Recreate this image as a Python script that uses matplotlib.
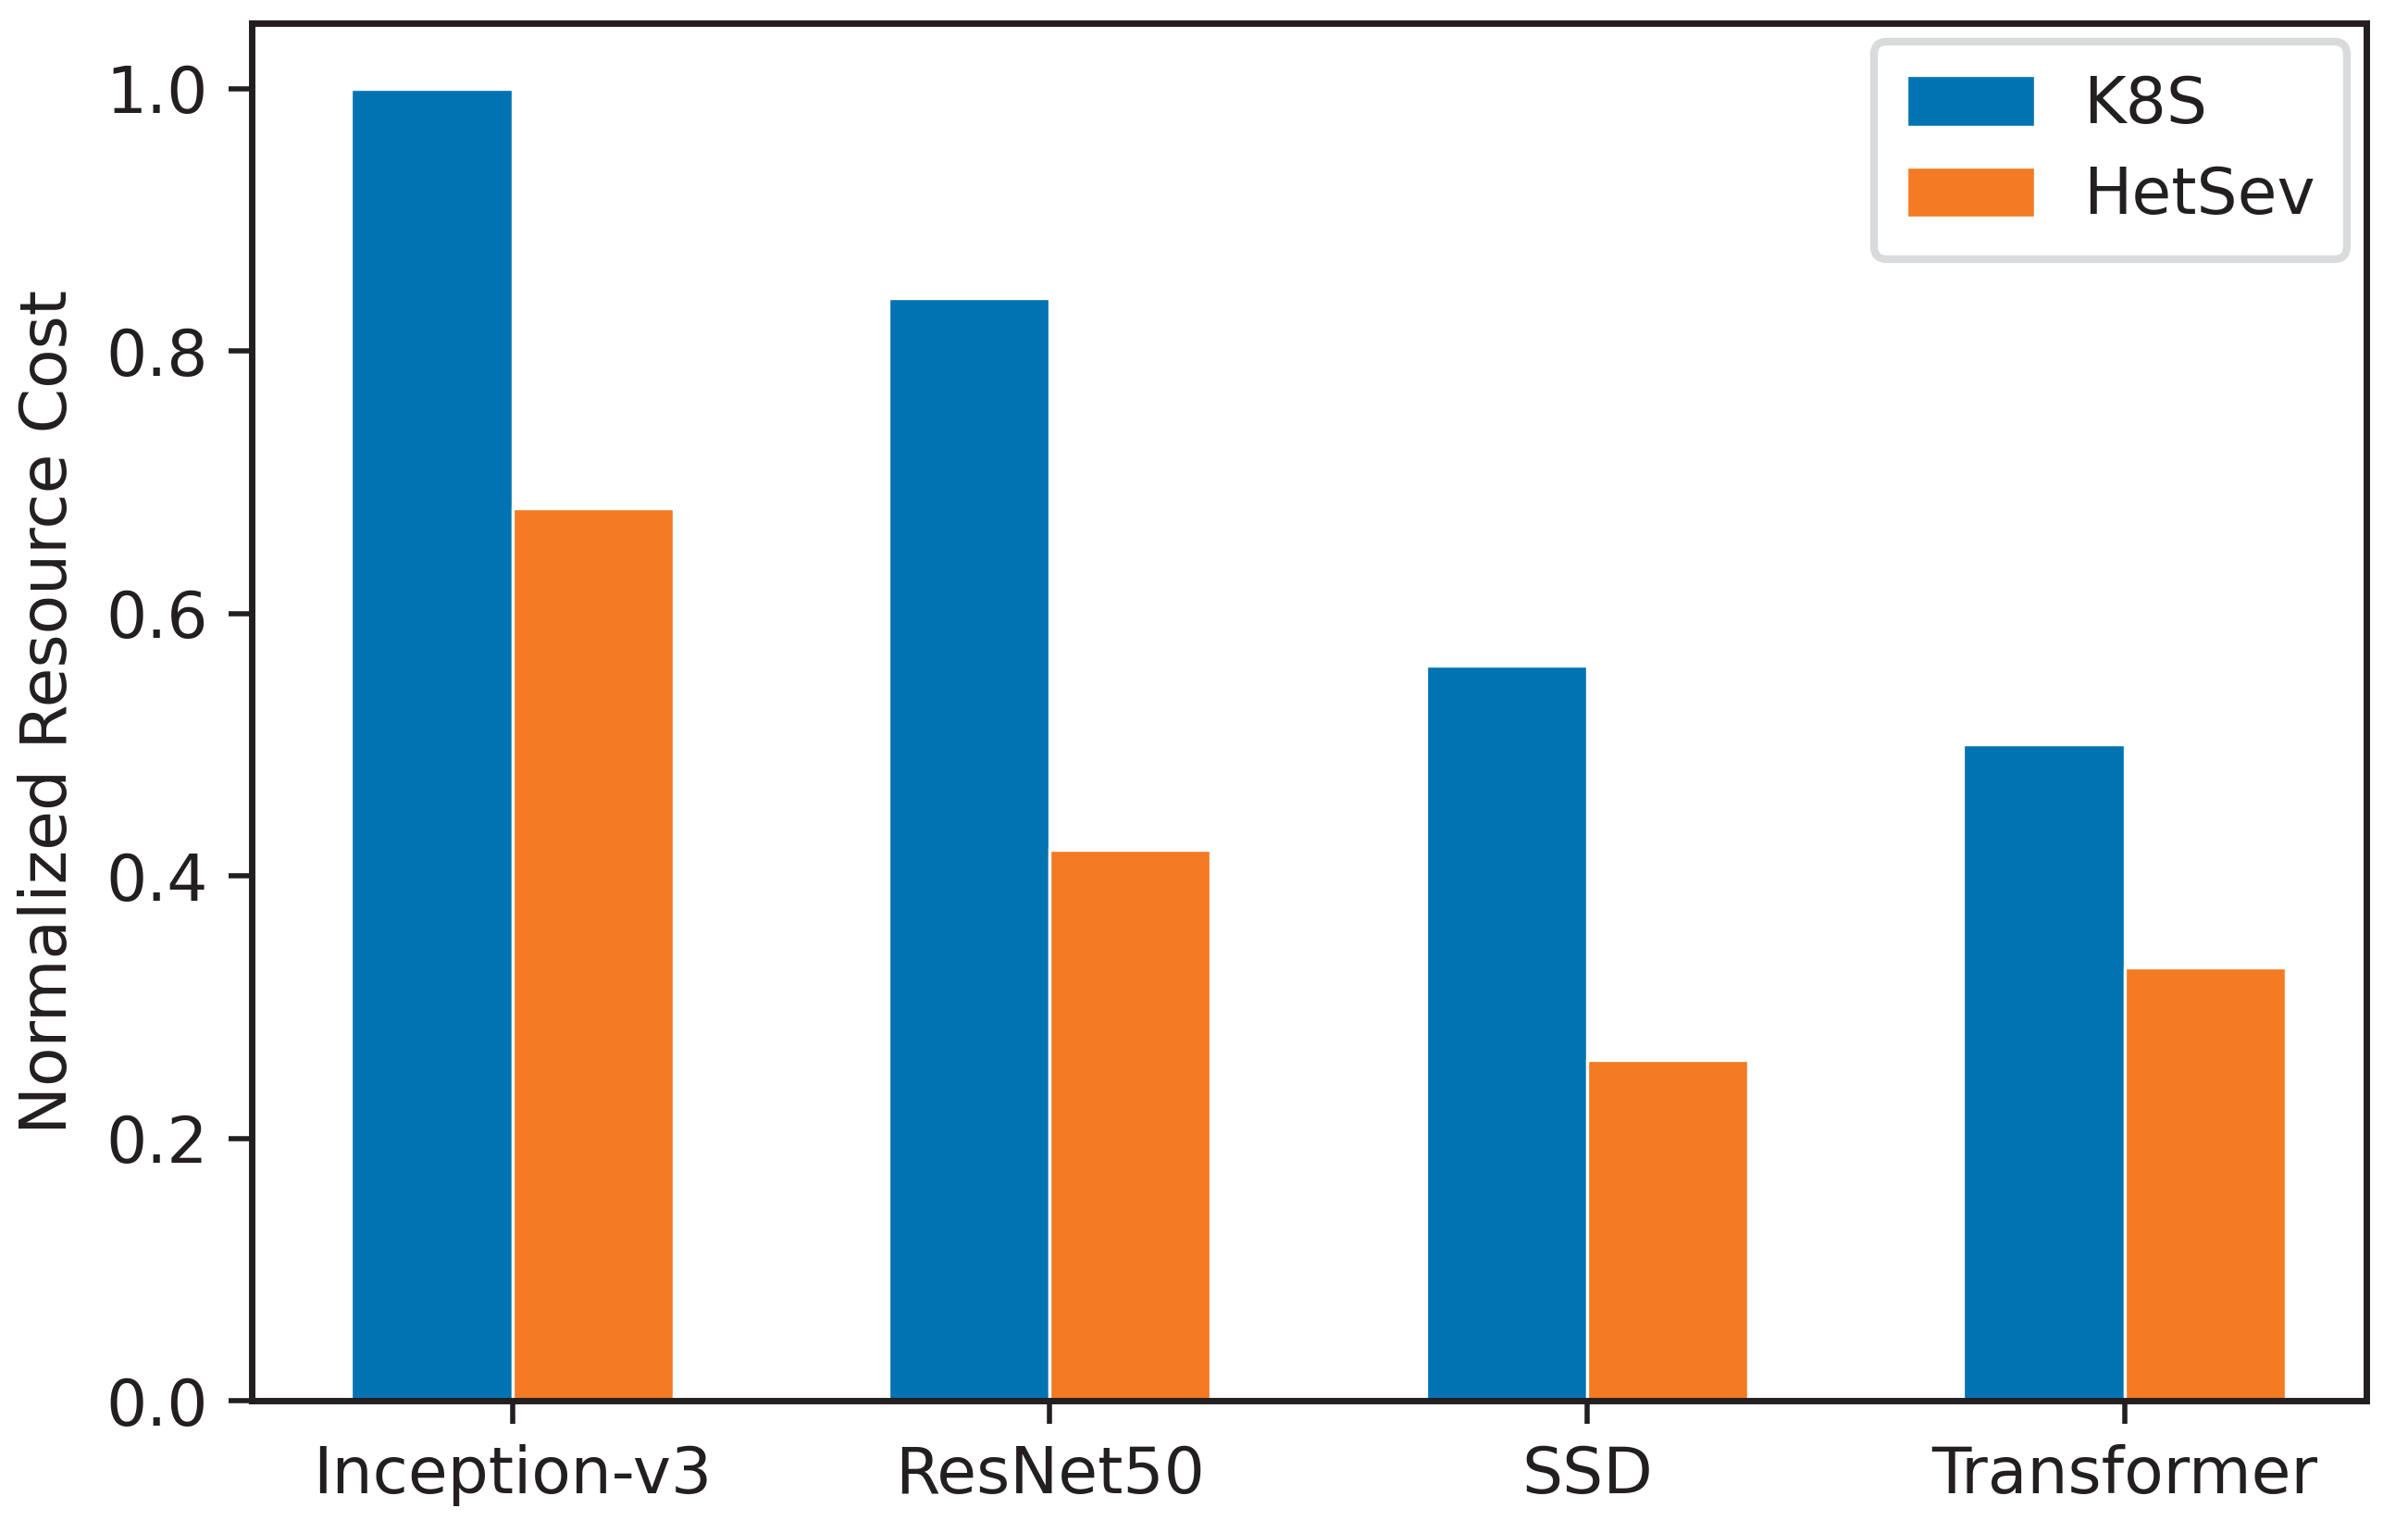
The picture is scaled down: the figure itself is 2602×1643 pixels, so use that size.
import numpy as np
import matplotlib.pyplot as plt

models = ['Inception-v3', 'ResNet50', 'SSD', 'Transformer']
k8s = [1.00, 0.84, 0.56, 0.50]
hetsev = [0.68, 0.42, 0.26, 0.33]

blue = '#0173B2'
orange = '#F47A24'
ink = '#231F20'

plt.rcParams['font.family'] = 'DejaVu Sans'
plt.rcParams['font.size'] = 25
plt.rcParams['text.color'] = ink
plt.rcParams['axes.labelcolor'] = ink
plt.rcParams['xtick.color'] = ink
plt.rcParams['ytick.color'] = ink

fig, ax = plt.subplots(figsize=(13.01, 8.215), dpi=200)
fig.subplots_adjust(left=0.1045, right=0.9827, top=0.985, bottom=0.079)

x = np.arange(len(models))
w = 0.3
ax.bar(x - w / 2, k8s, w, color=blue, edgecolor='white', linewidth=1.2, label='K8S')
ax.bar(x + w / 2, hetsev, w, color=orange, edgecolor='white', linewidth=1.2, label='HetSev')

ax.set_xticks(x)
ax.set_xticklabels(models)
ax.set_xlim(-0.485, 3.45)
ax.set_ylim(0, 1.05)
ax.set_yticks([0.0, 0.2, 0.4, 0.6, 0.8, 1.0])
ax.set_ylabel('Normalized Resource Cost', labelpad=10)

for s in ax.spines.values():
    s.set_linewidth(2.5)
    s.set_color(ink)
ax.tick_params(direction='out', length=9, width=2, labelsize=25, pad=8)

leg = ax.legend(loc='upper right', fontsize=25, handlelength=2.0, handleheight=0.85,
                borderpad=0.5, labelspacing=0.45, handletextpad=0.75, fancybox=True,
                framealpha=1, borderaxespad=0.3)
leg.get_frame().set_edgecolor('#D9DADB')
leg.get_frame().set_linewidth(3)

plt.savefig('out.png', dpi=200)
